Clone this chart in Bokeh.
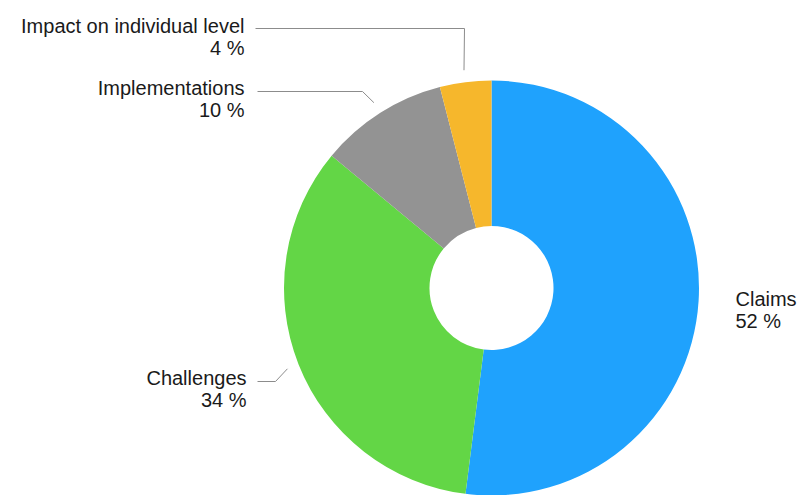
import math
from bokeh.plotting import figure
from bokeh.models import Range1d, ColumnDataSource
from bokeh.core.properties import value
from bokeh.embed import file_html
from bokeh.resources import INLINE

# ---- data ----
categories = ["Claims", "Challenges", "Implementations", "Impact on individual level"]
percents = [52, 34, 10, 4]
colors = ["#1fa2fd", "#63d646", "#939393", "#f6b72c"]

# ---- layout (page pixel coordinates) ----
W, H = 800, 495
OFF = 0
CX, CY = 491, 287.5
R_OUT, R_IN = 207.5, 62
FONT = "Liberation Sans"
FS = "20px"
LINE_GAP = 22.5

def Y(py):
    return (H + OFF) - py

# label anchor: (x, baseline of first line, align); leader: elbow point and end x (None = no leader)
label_layout = {
    "Claims": dict(x=735, y=298, align="left", elbow=None, end=None),
    "Challenges": dict(x=246, y=377, align="right", elbow=(275, 381), end=257),
    "Implementations": dict(x=244, y=87, align="right", elbow=(362, 91), end=257),
    "Impact on individual level": dict(x=244, y=25, align="right", elbow=(464, 28), end=255),
}

total = float(sum(percents))
starts, ends, mids = [], [], []
acc = 0.0
for v in percents:
    a0 = math.pi / 2 - 2 * math.pi * acc / total
    acc += v
    a1 = math.pi / 2 - 2 * math.pi * acc / total
    starts.append(a0)
    ends.append(a1)
    mids.append((a0 + a1) / 2)

p = figure(width=W, height=H, output_backend="svg", toolbar_location=None,
           x_range=Range1d(OFF, OFF + W), y_range=Range1d(0, H),
           min_border=0)
p.axis.visible = False
p.grid.visible = False
p.outline_line_color = None
p.background_fill_color = "white"
p.border_fill_color = "white"

src = ColumnDataSource(dict(start=starts, end=ends, color=colors))
p.annular_wedge(x=CX, y=Y(CY), inner_radius=R_IN, outer_radius=R_OUT,
                start_angle="start", end_angle="end", direction="clock",
                fill_color="color", line_color=None, source=src)

# leader lines
for cat, mid in zip(categories, mids):
    lay = label_layout[cat]
    if lay["elbow"] is None:
        continue
    r0 = R_OUT + 12
    sx = CX + r0 * math.cos(mid)
    sy = CY - r0 * math.sin(mid)
    ex, ey = lay["elbow"]
    xs = [sx, ex, lay["end"]]
    ys = [Y(sy), Y(ey), Y(ey)]
    p.line(xs, ys, line_color="#8c8c8c", line_width=1)

# labels
for cat, pct in zip(categories, percents):
    lay = label_layout[cat]
    p.text(x=[lay["x"]], y=[Y(lay["y"])], text=[cat], text_align=lay["align"],
           text_baseline="alphabetic", text_font=value(FONT), text_font_size=FS,
           text_color="#1a1a1a")
    p.text(x=[lay["x"]], y=[Y(lay["y"] + LINE_GAP)], text=[f"{pct} %"], text_align=lay["align"],
           text_baseline="alphabetic", text_font=value(FONT), text_font_size=FS,
           text_color="#1a1a1a")

open("out.html", "w").write(file_html(p, INLINE))
